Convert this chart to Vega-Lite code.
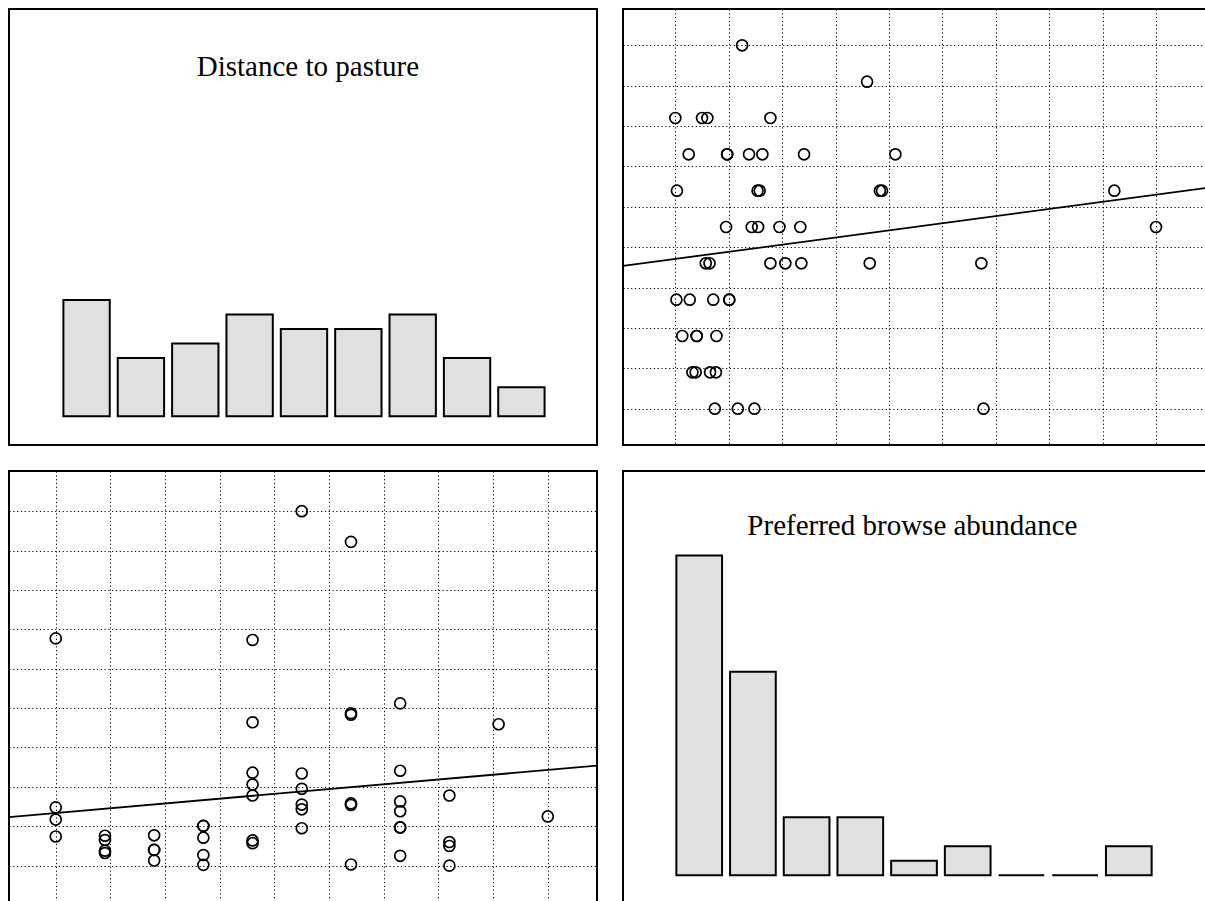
{
  "$schema": "https://vega.github.io/schema/vega-lite/v6.json",
  "background": "white",
  "padding": {"left": 8, "top": 8, "right": 0, "bottom": 0},
  "config": {
    "view": {"stroke": "black", "strokeWidth": 2},
    "concat": {"spacing": 24},
    "text": {"font": "Liberation Serif"}
  },
  "datasets": {
    "points": [
      {"distance": 0, "browse": 0.74}, {"distance": 0, "browse": 1.17}, {"distance": 0, "browse": 1.48}, {"distance": 0, "browse": 5.77},
      {"distance": 1, "browse": 0.32}, {"distance": 1, "browse": 0.38}, {"distance": 1, "browse": 0.65}, {"distance": 1, "browse": 0.76},
      {"distance": 2, "browse": 0.13}, {"distance": 2, "browse": 0.40}, {"distance": 2, "browse": 0.40}, {"distance": 2, "browse": 0.77},
      {"distance": 3, "browse": 0.02}, {"distance": 3, "browse": 0.27}, {"distance": 3, "browse": 0.71}, {"distance": 3, "browse": 1.01}, {"distance": 3, "browse": 1.01},
      {"distance": 4, "browse": 0.57}, {"distance": 4, "browse": 0.64}, {"distance": 4, "browse": 1.78}, {"distance": 4, "browse": 2.06}, {"distance": 4, "browse": 2.36}, {"distance": 4, "browse": 3.64}, {"distance": 4, "browse": 5.73},
      {"distance": 5, "browse": 0.95}, {"distance": 5, "browse": 1.43}, {"distance": 5, "browse": 1.55}, {"distance": 5, "browse": 1.95}, {"distance": 5, "browse": 2.34}, {"distance": 5, "browse": 9.0},
      {"distance": 6, "browse": 0.03}, {"distance": 6, "browse": 1.54}, {"distance": 6, "browse": 1.58}, {"distance": 6, "browse": 3.83}, {"distance": 6, "browse": 3.87}, {"distance": 6, "browse": 8.22},
      {"distance": 7, "browse": 0.25}, {"distance": 7, "browse": 0.97}, {"distance": 7, "browse": 0.97}, {"distance": 7, "browse": 1.38}, {"distance": 7, "browse": 1.63}, {"distance": 7, "browse": 2.41}, {"distance": 7, "browse": 4.12},
      {"distance": 8, "browse": 0.0}, {"distance": 8, "browse": 0.50}, {"distance": 8, "browse": 0.60}, {"distance": 8, "browse": 1.78},
      {"distance": 9, "browse": 3.59},
      {"distance": 10, "browse": 1.25}
    ],
    "dist_hist": [
      {"bin_start": 0, "bin_end": 1.1111, "count": 8},
      {"bin_start": 1.1111, "bin_end": 2.2222, "count": 4},
      {"bin_start": 2.2222, "bin_end": 3.3333, "count": 5},
      {"bin_start": 3.3333, "bin_end": 4.4444, "count": 7},
      {"bin_start": 4.4444, "bin_end": 5.5556, "count": 6},
      {"bin_start": 5.5556, "bin_end": 6.6667, "count": 6},
      {"bin_start": 6.6667, "bin_end": 7.7778, "count": 7},
      {"bin_start": 7.7778, "bin_end": 8.8889, "count": 4},
      {"bin_start": 8.8889, "bin_end": 10, "count": 2}
    ],
    "browse_hist": [
      {"bin_start": 0, "bin_end": 1, "count": 22},
      {"bin_start": 1, "bin_end": 2, "count": 14},
      {"bin_start": 2, "bin_end": 3, "count": 4},
      {"bin_start": 3, "bin_end": 4, "count": 4},
      {"bin_start": 4, "bin_end": 5, "count": 1},
      {"bin_start": 5, "bin_end": 6, "count": 2},
      {"bin_start": 6, "bin_end": 7, "count": 0},
      {"bin_start": 7, "bin_end": 8, "count": 0},
      {"bin_start": 8, "bin_end": 9, "count": 2}
    ],
    "fit_top": [
      {"browse": -0.98, "distance": 3.93},
      {"browse": 10.03, "distance": 6.09}
    ],
    "fit_bottom": [
      {"distance": -0.95, "browse": 1.23},
      {"distance": 11.0, "browse": 2.54}
    ]
  },
  "vconcat": [
    {
      "hconcat": [
        {
          "width": 588, "height": 436,
          "layer": [
            {
              "data": {"name": "dist_hist"},
              "mark": {"type": "bar", "fill": "#e0e0e0", "stroke": "black", "strokeWidth": 2, "binSpacing": 8},
              "encoding": {
                "x": {"field": "bin_start", "type": "quantitative", "bin": "binned", "scale": {"domain": [-1.02, 11.0], "nice": false, "zero": false}, "axis": null},
                "x2": {"field": "bin_end"},
                "y": {"field": "count", "type": "quantitative", "scale": {"domain": [-1.98, 28.02], "nice": false, "zero": false}, "axis": null},
                "y2": {"datum": 0}
              }
            },
            {
              "data": {"values": [{"label": "Distance to pasture"}]},
              "mark": {"type": "text", "font": "Liberation Serif", "fontSize": 29, "align": "center", "baseline": "alphabetic", "color": "black"},
              "encoding": {
                "x": {"datum": 5.09, "type": "quantitative"},
                "y": {"datum": 23.38, "type": "quantitative"},
                "text": {"field": "label", "type": "nominal"}
              }
            }
          ]
        },
        {
          "width": 588, "height": 436,
          "layer": [
            {
              "data": {"name": "points"},
              "mark": {"type": "point", "shape": "circle", "filled": false, "size": 120, "strokeWidth": 1.7, "color": "black", "opacity": 1},
              "encoding": {
                "x": {"field": "browse", "type": "quantitative", "scale": {"domain": [-0.98, 10.03], "nice": false, "zero": false},
                      "axis": {"values": [0, 1, 2, 3, 4, 5, 6, 7, 8, 9], "grid": true, "labels": false, "ticks": false, "domain": false, "title": null, "gridDash": [1.2, 2.6], "gridColor": "black", "gridWidth": 1, "gridOpacity": 1}},
                "y": {"field": "distance", "type": "quantitative", "scale": {"domain": [-1.0, 11.0], "nice": false, "zero": false},
                      "axis": {"values": [0, 1.1111, 2.2222, 3.3333, 4.4444, 5.5556, 6.6667, 7.7778, 8.8889, 10], "grid": true, "labels": false, "ticks": false, "domain": false, "title": null, "gridDash": [1.2, 2.6], "gridColor": "black", "gridWidth": 1, "gridOpacity": 1}}
              }
            },
            {
              "data": {"name": "fit_top"},
              "mark": {"type": "line", "color": "black", "strokeWidth": 1.8, "clip": true},
              "encoding": {
                "x": {"field": "browse", "type": "quantitative"},
                "y": {"field": "distance", "type": "quantitative"}
              }
            }
          ]
        }
      ]
    },
    {
      "hconcat": [
        {
          "width": 588, "height": 436,
          "layer": [
            {
              "data": {"name": "points"},
              "mark": {"type": "point", "shape": "circle", "filled": false, "size": 120, "strokeWidth": 1.7, "color": "black", "opacity": 1},
              "encoding": {
                "x": {"field": "distance", "type": "quantitative", "scale": {"domain": [-0.95, 11.0], "nice": false, "zero": false},
                      "axis": {"values": [0, 1.1111, 2.2222, 3.3333, 4.4444, 5.5556, 6.6667, 7.7778, 8.8889, 10], "grid": true, "labels": false, "ticks": false, "domain": false, "title": null, "gridDash": [1.2, 2.6], "gridColor": "black", "gridWidth": 1, "gridOpacity": 1}},
                "y": {"field": "browse", "type": "quantitative", "scale": {"domain": [-1.05, 10.02], "nice": false, "zero": false},
                      "axis": {"values": [0, 1, 2, 3, 4, 5, 6, 7, 8, 9], "grid": true, "labels": false, "ticks": false, "domain": false, "title": null, "gridDash": [1.2, 2.6], "gridColor": "black", "gridWidth": 1, "gridOpacity": 1}}
              }
            },
            {
              "data": {"name": "fit_bottom"},
              "mark": {"type": "line", "color": "black", "strokeWidth": 1.8, "clip": true},
              "encoding": {
                "x": {"field": "distance", "type": "quantitative"},
                "y": {"field": "browse", "type": "quantitative"}
              }
            }
          ]
        },
        {
          "width": 588, "height": 436,
          "layer": [
            {
              "data": {"name": "browse_hist"},
              "mark": {"type": "bar", "fill": "#e0e0e0", "stroke": "black", "strokeWidth": 2, "binSpacing": 8},
              "encoding": {
                "x": {"field": "bin_start", "type": "quantitative", "bin": "binned", "scale": {"domain": [-0.91, 10.04], "nice": false, "zero": false}, "axis": null},
                "x2": {"field": "bin_end"},
                "y": {"field": "count", "type": "quantitative", "scale": {"domain": [-2.18, 27.82], "nice": false, "zero": false}, "axis": null},
                "y2": {"datum": 0}
              }
            },
            {
              "data": {"values": [{"label": "Preferred browse abundance"}]},
              "mark": {"type": "text", "font": "Liberation Serif", "fontSize": 29, "align": "center", "baseline": "alphabetic", "color": "black"},
              "encoding": {
                "x": {"datum": 4.48, "type": "quantitative"},
                "y": {"datum": 23.45, "type": "quantitative"},
                "text": {"field": "label", "type": "nominal"}
              }
            }
          ]
        }
      ]
    }
  ]
}
